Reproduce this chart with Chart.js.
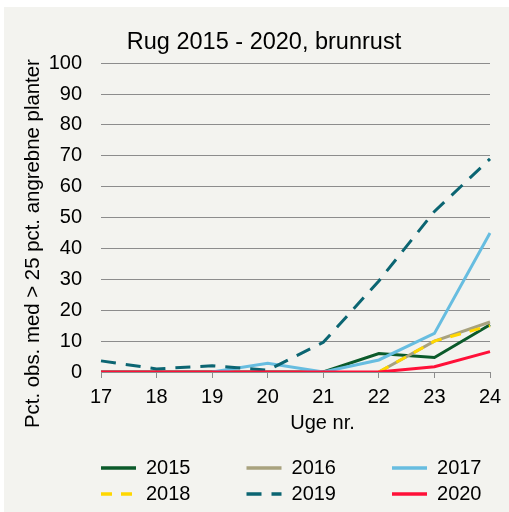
<!DOCTYPE html>
<html>
<head>
<meta charset="utf-8">
<script src="https://cdn.jsdelivr.net/npm/chart.js@4"></script>
<style>
  html, body { margin: 0; padding: 0; background: #fff; }
  #wrap { position: absolute; left: 4px; top: 7px; width: 505px; height: 505px; background: #f3f3ef; }
</style>
</head>
<body>
<div id="wrap"><canvas id="rust"></canvas></div>
<script>
// uge numre
const weeks = ["17", "18", "19", "20", "21", "22", "23", "24"];
const seriesNames = ["2015", "2016", "2017", "2018", "2019", "2020"];
const y2015 = [0, 0, 0, 0, 0, 6, 4.7, 15.3];
const y2016 = [null, null, null, null, null, 0, 10, 16.2];
const y2017 = [null, null, 0, 2.8, 0, 3.9, 12.5, 45];
const y2018 = [null, null, null, null, null, 0, 10, 15];
const y2019 = [3.6, 1, 2, 0.6, 9.6, 29.5, 52, 69];
const y2020 = [0, 0, 0, 0, 0, 0, 1.7, 6.6];
const yTicks = [0, 10, 20, 30, 40, 50, 60, 70, 80, 90, 100];

const colors = ["#0b5a2a", "#a8a27e", "#67bde0", "#ffd700", "#0b6572", "#ff1038"];
const dashes = [[], [], [], [11, 9], [15, 10], []];
const values = [y2015, y2016, y2017, y2018, y2019, y2020];

const pad = "         "; // holder legend-kolonnerne på plads

// flyt en akse-titel uden at flytte selve aksen
function shiftTitle(scale, dx, dy) {
  const orig = scale.drawTitle;
  scale.drawTitle = function() {
    const box = { l: this.left, r: this.right, t: this.top, b: this.bottom };
    this.left += dx; this.right += dx; this.top += dy; this.bottom += dy;
    orig.call(this);
    this.left = box.l; this.right = box.r; this.top = box.t; this.bottom = box.b;
  };
}

const ctx = document.getElementById("rust").getContext("2d");
new Chart(ctx, {
  type: "line",
  data: {
    labels: weeks,
    datasets: seriesNames.map((name, i) => ({
      label: name,
      data: values[i],
      borderColor: colors[i],
      backgroundColor: colors[i],
      borderWidth: 3,
      borderDash: dashes[i],
      pointRadius: 0,
      tension: 0,
      order: seriesNames.length - i
    }))
  },
  options: {
    responsive: true,
    maintainAspectRatio: false,
    animation: false,
    layout: { padding: { left: 0, right: 19, top: 0, bottom: 0 } },
    plugins: {
      title: {
        display: true,
        text: "Rug 2015 - 2020, brunrust",
        color: "#000",
        font: { family: "Liberation Sans", size: 23.5, weight: "normal" },
        padding: { top: 21, bottom: 7 }
      },
      legend: {
        position: "bottom",
        align: "start",
        labels: {
          usePointStyle: true,
          pointStyle: "line",
          pointStyleWidth: 35,
          boxHeight: 19,
          padding: 6,
          color: "#000",
          font: { family: "Liberation Sans", size: 20 },
          sort: (a, b) => a.datasetIndex - b.datasetIndex,
          generateLabels: (chart) => chart.data.datasets.map((ds, i) => ({
            text: ds.label + pad,
            strokeStyle: ds.borderColor,
            fillStyle: ds.borderColor,
            lineWidth: 3.5,
            lineDash: ds.borderDash,
            pointStyle: "line",
            datasetIndex: i,
            hidden: false
          }))
        }
      },
      tooltip: { enabled: false }
    },
    scales: {
      x: {
        grid: { drawOnChartArea: false, drawTicks: true, tickLength: 6, color: "#8c8c8c", lineWidth: 1 },
        border: { display: true, color: "#8c8c8c", width: 1 },
        ticks: { color: "#000", padding: 7, maxRotation: 0, font: { family: "Liberation Sans", size: 20 } },
        title: {
          display: true, text: "Uge nr.", color: "#000",
          font: { family: "Liberation Sans", size: 20 },
          padding: { top: 0, bottom: 15 }
        },
        afterFit: (s) => { s.height = 78; }
      },
      y: {
        min: 0,
        max: 100,
        afterBuildTicks: (s) => { s.ticks = yTicks.map(v => ({ value: v })); },
        grid: { color: "#8c8c8c", lineWidth: 1, drawTicks: false },
        border: { display: false },
        ticks: { color: "#000", padding: 19, font: { family: "Liberation Sans", size: 20 } },
        title: {
          display: true, text: "Pct. obs. med > 25 pct. angrebne planter", color: "#000",
          font: { family: "Liberation Sans", size: 20.4 },
          padding: { top: 17, bottom: 0 }
        },
        afterFit: (s) => { s.width = 97; }
      }
    }
  },
  plugins: [{
    id: "layoutTweaks",
    afterLayout: (chart) => {
      const lg = chart.legend;
      lg.left = 91;
      lg.right = 600;
      lg.top = 445;
      const tb = chart.titleBlock;
      tb.left += 17;
      tb.right += 17;
      if (!chart.$shifted) {
        shiftTitle(chart.scales.y, 0, 26);
        shiftTitle(chart.scales.x, 27, 0);
        chart.$shifted = true;
      }
    }
  }]
});
</script>
</body>
</html>
